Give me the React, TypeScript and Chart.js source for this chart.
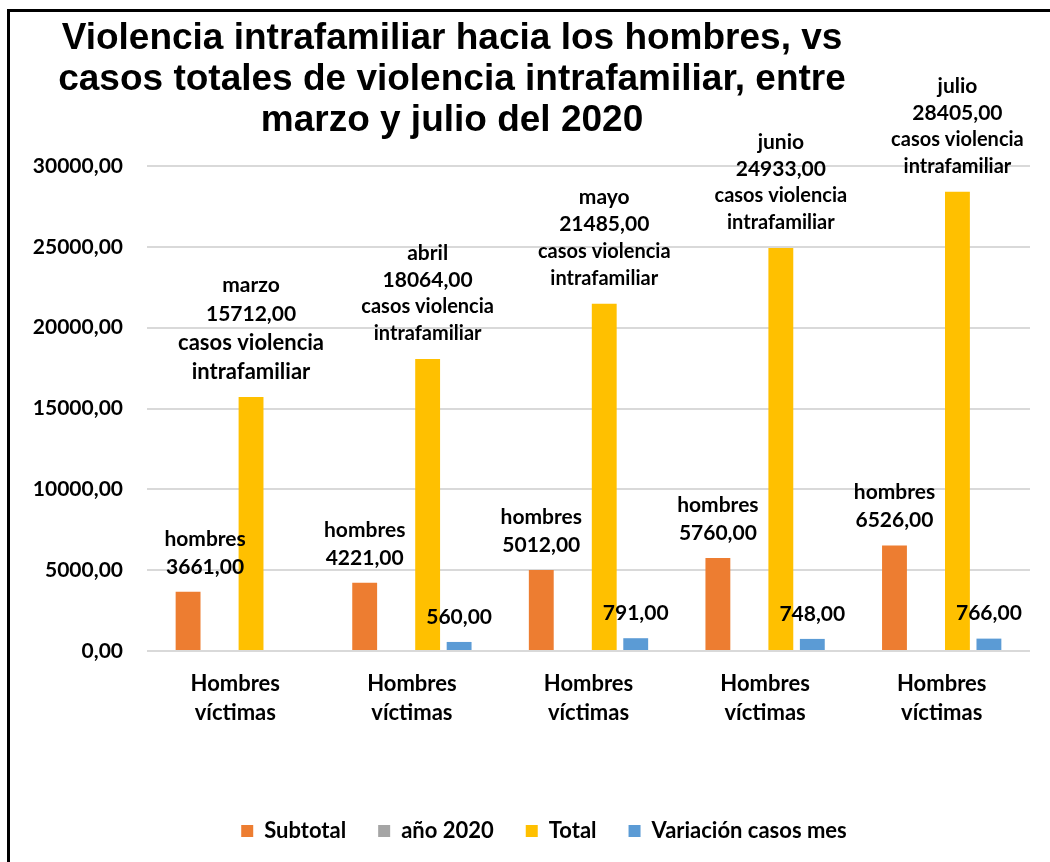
import React, { useEffect, useRef } from "react";
import { Chart, registerables } from "chart.js";

Chart.register(...registerables);

// ---- data ----
const categories: string[][] = [
  ["Hombres", "víctimas"],
  ["Hombres", "víctimas"],
  ["Hombres", "víctimas"],
  ["Hombres", "víctimas"],
  ["Hombres", "víctimas"],
];
const months = ["marzo", "abril", "mayo", "junio", "julio"];
const subtotal = [3661, 4221, 5012, 5760, 6526];
const year2020 = [0, 0, 0, 0, 0];
const total = [15712, 18064, 21485, 24933, 28405];
const variation: (number | null)[] = [null, 560, 791, 748, 766];
const seriesNames = ["Subtotal", "año 2020", "Total", "Variación casos mes"];
const subtotalPrefix = "hombres";
const totalSuffix = ["casos violencia", "intrafamiliar"];
const titleLines = [
  "Violencia intrafamiliar hacia los hombres, vs",
  "casos totales de violencia intrafamiliar, entre",
  "marzo y julio del 2020",
];
const yMin = 0;
const yMax = 30000;
const yStep = 5000;

// ---- styles ----
const FONT = 'Lato, "Open Sans", sans-serif';
const TITLE_FONT = '"Liberation Sans", Arial, sans-serif';
const colors = ["#ED7D31", "#A5A5A5", "#FFC000", "#5B9BD5"];

const fmt = (v: number) => v.toFixed(2).replace(".", ",");

const titlePlugin = {
  id: "customTitle",
  afterDraw(chart: any) {
    const ctx = chart.ctx;
    ctx.save();
    ctx.fillStyle = "#000";
    ctx.textAlign = "center";
    ctx.textBaseline = "alphabetic";
    ctx.font = `bold 37px ${TITLE_FONT}`;
    titleLines.forEach((line, k) => {
      ctx.fillText(line, 442, 37 + k * 41);
    });
    ctx.restore();
  },
};

const legendShiftPlugin = {
  id: "legendShift",
  afterLayout(chart: any) {
    const l = chart.legend;
    if (l) {
      l.left += 24;
      l.right += 24;
    }
  },
};

const labelPlugin = {
  id: "barLabels",
  afterDatasetsDraw(chart: any) {
    const ctx = chart.ctx;
    ctx.save();
    ctx.fillStyle = "#000";
    ctx.textAlign = "center";
    ctx.textBaseline = "middle";
    chart.data.datasets.forEach((ds: any, di: number) => {
      const meta = chart.getDatasetMeta(di);
      ds.data.forEach((v: number | null, i: number) => {
        if (v == null || v === 0) return;
        const el = meta.data[i];
        let lines: [string, number][];
        let dx = 0;
        let step = 28;
        if (di === 0) {
          lines = [
            [subtotalPrefix, 21],
            [fmt(v), 21],
          ];
          dx = i === 0 ? 17 : 0;
        } else if (di === 2) {
          const s = i === 0 ? 22 : 20;
          step = i === 0 ? 29 : 27;
          lines = [
            [months[i], 21],
            [fmt(v), 21],
            [totalSuffix[0], s],
            [totalSuffix[1], s],
          ];
        } else if (di === 3) {
          lines = [[fmt(v), 21]];
        } else return;
        let y = el.y - 25;
        for (let k = lines.length - 1; k >= 0; k--) {
          ctx.font = `bold ${lines[k][1]}px ${FONT}`;
          ctx.fillText(lines[k][0], el.x + dx, y);
          y -= step;
        }
      });
    });
    ctx.restore();
  },
};

export default function App() {
  const ref = useRef<HTMLCanvasElement | null>(null);

  useEffect(() => {
    document.documentElement.style.overflow = "hidden";
    document.body.style.overflow = "hidden";
    const canvas = ref.current;
    if (!canvas) return;
    const seriesData = [subtotal, year2020, total, variation];
    const chart = new Chart(canvas, {
      type: "bar",
      data: {
        labels: categories,
        datasets: seriesNames.map((name, i) => ({
          label: name,
          data: seriesData[i],
          backgroundColor: colors[i],
          borderWidth: 0,
          categoryPercentage: 0.713,
          barPercentage: 0.79,
        })),
      },
      options: {
        responsive: false,
        animation: false,
        devicePixelRatio: 1,
        layout: { padding: { top: 154, right: 20, left: 0, bottom: 0 } },
        plugins: {
          title: { display: false },
          tooltip: { enabled: false },
          legend: {
            position: "bottom",
            labels: {
              boxWidth: 12,
              boxHeight: 12,
              padding: 32,
              color: "#000",
              font: { family: FONT, size: 22, weight: "bold" },
            },
          },
        },
        scales: {
          x: {
            grid: { display: false },
            border: { display: false },
            ticks: {
              color: "#000",
              font: { family: FONT, size: 22, weight: "bold", lineHeight: 1.3 },
              padding: 11,
              maxRotation: 0,
              autoSkip: false,
            },
            afterFit(axis: any) {
              axis.height = 137;
            },
          },
          y: {
            min: yMin,
            max: yMax,
            ticks: {
              stepSize: yStep,
              color: "#000",
              font: { family: FONT, size: 21, weight: "bold" },
              padding: 24,
              callback: (v: any) => fmt(Number(v)),
            },
            grid: { color: "#d9d9d9", lineWidth: 2, drawTicks: false },
            border: { display: false },
            afterFit(axis: any) {
              axis.width = 137;
            },
          },
        },
      },
      plugins: [titlePlugin, labelPlugin, legendShiftPlugin],
    });
    return () => chart.destroy();
  }, []);

  return (
    <div
      style={{
        position: "fixed",
        left: 7,
        top: 9,
        width: 1040,
        height: 850,
        borderLeft: "3px solid #000",
        borderTop: "3px solid #000",
        background: "#fff",
        overflow: "hidden",
      }}
    >
      <canvas
        ref={ref}
        width={1040}
        height={840}
        style={{ display: "block", width: 1040, height: 840 }}
      />
    </div>
  );
}
